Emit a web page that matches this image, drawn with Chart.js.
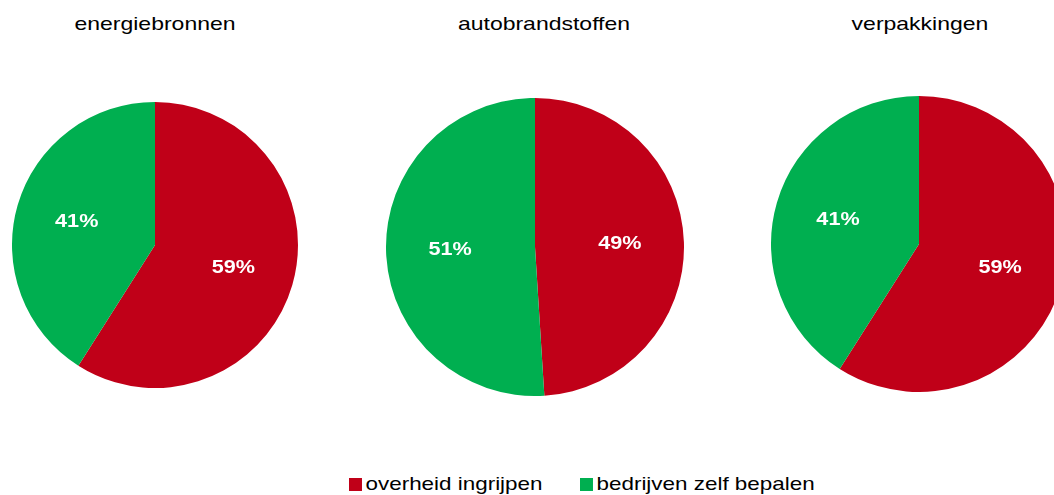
<!DOCTYPE html>
<html>
<head>
<meta charset="utf-8">
<script src="https://cdn.jsdelivr.net/npm/chart.js@4.4.1/dist/chart.umd.min.js"></script>
<style>
  html, body { margin: 0; padding: 0; background: #fff; }
  body { width: 1054px; height: 495px; position: relative; overflow: hidden; font-family: "Liberation Sans", Arial, sans-serif; color: #000; }
  canvas { position: absolute; }
  .title { position: absolute; top: 13px; font-size: 19px; white-space: nowrap; transform: translateX(-50%) scaleX(1.21); }
  .legend-item { position: absolute; top: 473px; font-size: 19px; white-space: nowrap; transform-origin: left center; transform: scaleX(1.18); }
  .legend-box { display: inline-block; width: 11px; height: 13px; margin-right: 3px; vertical-align: -1px; }
</style>
</head>
<body>
<canvas id="pie1" width="286" height="286" style="left:12px;top:102px"></canvas>
<canvas id="pie2" width="298" height="298" style="left:386px;top:98px"></canvas>
<canvas id="pie3" width="296" height="296" style="left:771px;top:96px"></canvas>
<div id="titles"></div>
<div id="legend"></div>
<script>
// categories and values
const seriesLabels = ['overheid ingrijpen', 'bedrijven zelf bepalen'];
const seriesColors = ['#C00018', '#00AF50'];
const chartTitles = ['energiebronnen', 'autobrandstoffen', 'verpakkingen'];
const energiebronnen = [59, 41];
const autobrandstoffen = [49, 51];
const verpakkingen = [59, 41];

// white bold percentage in the middle of each slice
const sliceLabels = {
    id: 'sliceLabels',
    afterDatasetsDraw(chart) {
        const ctx = chart.ctx;
        const meta = chart.getDatasetMeta(0);
        ctx.save();
        ctx.fillStyle = '#fff';
        ctx.font = 'bold 18px "Liberation Sans", Arial, sans-serif';
        ctx.textAlign = 'center';
        ctx.textBaseline = 'middle';
        meta.data.forEach((arc, i) => {
            const mid = (arc.startAngle + arc.endAngle) / 2;
            const r = arc.outerRadius * 0.57;
            const x = arc.x + Math.cos(mid) * r;
            const y = arc.y + Math.sin(mid) * r;
            ctx.save();
            ctx.translate(x, y);
            ctx.scale(1.2, 1);
            ctx.fillText(chart.data.datasets[0].data[i] + '%', 0, 0);
            ctx.restore();
        });
        ctx.restore();
    }
};

function makePie(id, values) {
    new Chart(document.getElementById(id), {
        type: 'pie',
        data: {
            labels: seriesLabels,
            datasets: [{
                data: values,
                backgroundColor: seriesColors,
                borderWidth: 0
            }]
        },
        options: {
            responsive: false,
            animation: false,
            layout: { padding: 0 },
            plugins: {
                legend: { display: false },
                tooltip: { enabled: false }
            }
        },
        plugins: [sliceLabels]
    });
}

makePie('pie1', energiebronnen);
makePie('pie2', autobrandstoffen);
makePie('pie3', verpakkingen);

// titles above each pie
const titleX = [155, 544, 920];
const titles = document.getElementById('titles');
chartTitles.forEach((t, i) => {
    const d = document.createElement('div');
    d.className = 'title';
    d.style.left = titleX[i] + 'px';
    d.textContent = t;
    titles.appendChild(d);
});

// shared legend at the bottom
const legendX = [349, 580];
const legend = document.getElementById('legend');
seriesLabels.forEach((label, i) => {
    const item = document.createElement('div');
    item.className = 'legend-item';
    item.style.left = legendX[i] + 'px';
    item.innerHTML = '<span class="legend-box" style="background:' + seriesColors[i] + '"></span>' + label;
    legend.appendChild(item);
});
</script>
</body>
</html>
